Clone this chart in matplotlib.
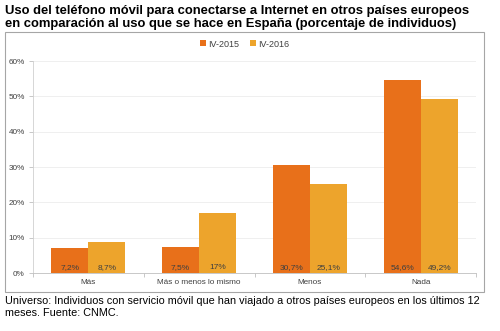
import matplotlib.pyplot as plt
import numpy as np
from matplotlib.patches import Rectangle

plt.rcParams["font.family"] = ["Liberation Sans", "DejaVu Sans"]

categories = ["Más", "Más o menos lo mismo", "Menos", "Nada"]
series_names = ["IV-2015", "IV-2016"]
v2015 = [7.2, 7.5, 30.7, 54.6]
v2016 = [8.7, 17.0, 25.1, 49.2]
labels2015 = ["7,2%", "7,5%", "30,7%", "54,6%"]
labels2016 = ["8,7%", "17%", "25,1%", "49,2%"]
colors = ["#E8701A", "#EDA42C"]
text_color = "#404040"

fig = plt.figure(figsize=(5, 3.31), dpi=100)

# chart frame
fig.patches.append(Rectangle((0.010, 0.118), 0.958, 0.785, transform=fig.transFigure,
                             facecolor="none", edgecolor="#a6a6a6", linewidth=0.8, zorder=5))

ax = fig.add_axes([0.066, 0.175, 0.886, 0.6405])
ax.patch.set_alpha(0)
x = np.arange(len(categories))
w = 0.335
b1 = ax.bar(x - w / 2, v2015, w, color=colors[0], label=series_names[0], zorder=3)
b2 = ax.bar(x + w / 2, v2016, w, color=colors[1], label=series_names[1], zorder=3)

for bars, labs in ((b1, labels2015), (b2, labels2016)):
    for rect, lab in zip(bars, labs):
        ax.text(rect.get_x() + rect.get_width() / 2, 1.6, lab, ha="center", va="center",
                fontsize=6.0, color=text_color, zorder=4)

ax.set_xlim(-0.5, 3.5)
ax.set_ylim(0, 60)
ax.set_yticks(range(0, 61, 10))
ax.set_yticklabels([f"{v}%" for v in range(0, 61, 10)])
ax.set_xticks(x)
ax.set_xticklabels(categories)
ax.set_xticks(np.arange(-0.5, 3.6, 1), minor=True)
ax.tick_params(axis="x", which="major", length=0, labelsize=5.9, colors=text_color, pad=4)
ax.tick_params(axis="x", which="minor", length=3, color="#bfbfbf", width=0.6)
ax.tick_params(axis="y", length=3, color="#bfbfbf", width=0.6, labelsize=5.9,
               colors=text_color, pad=3)
ax.grid(axis="y", color="#ececec", linewidth=0.6, zorder=0)
for s in ("top", "right"):
    ax.spines[s].set_visible(False)
ax.spines["left"].set_color("#d0d0d0")
ax.spines["bottom"].set_color("#bfbfbf")
ax.spines["left"].set_linewidth(0.6)
ax.spines["bottom"].set_linewidth(0.6)

fig.legend(loc="center", bbox_to_anchor=(0.49, 0.867), ncol=2, frameon=False,
           fontsize=6.5, handlelength=0.6, handleheight=0.6, handletextpad=0.3,
           columnspacing=1.2, labelcolor=text_color)

fig.text(0.010, 0.948, "Uso del teléfono móvil para conectarse a Internet en otros países europeos\n"
         "en comparación al uso que se hace en España (porcentaje de individuos)",
         ha="left", va="center", fontsize=9.4, fontweight="bold", linespacing=1.15)

fig.text(0.010, 0.073, "Universo: Individuos con servicio móvil que han viajado a otros países europeos en los últimos 12\n"
         "meses. Fuente: CNMC.", ha="left", va="center", fontsize=7.8, linespacing=1.25)

fig.savefig("out.png", dpi=100)
